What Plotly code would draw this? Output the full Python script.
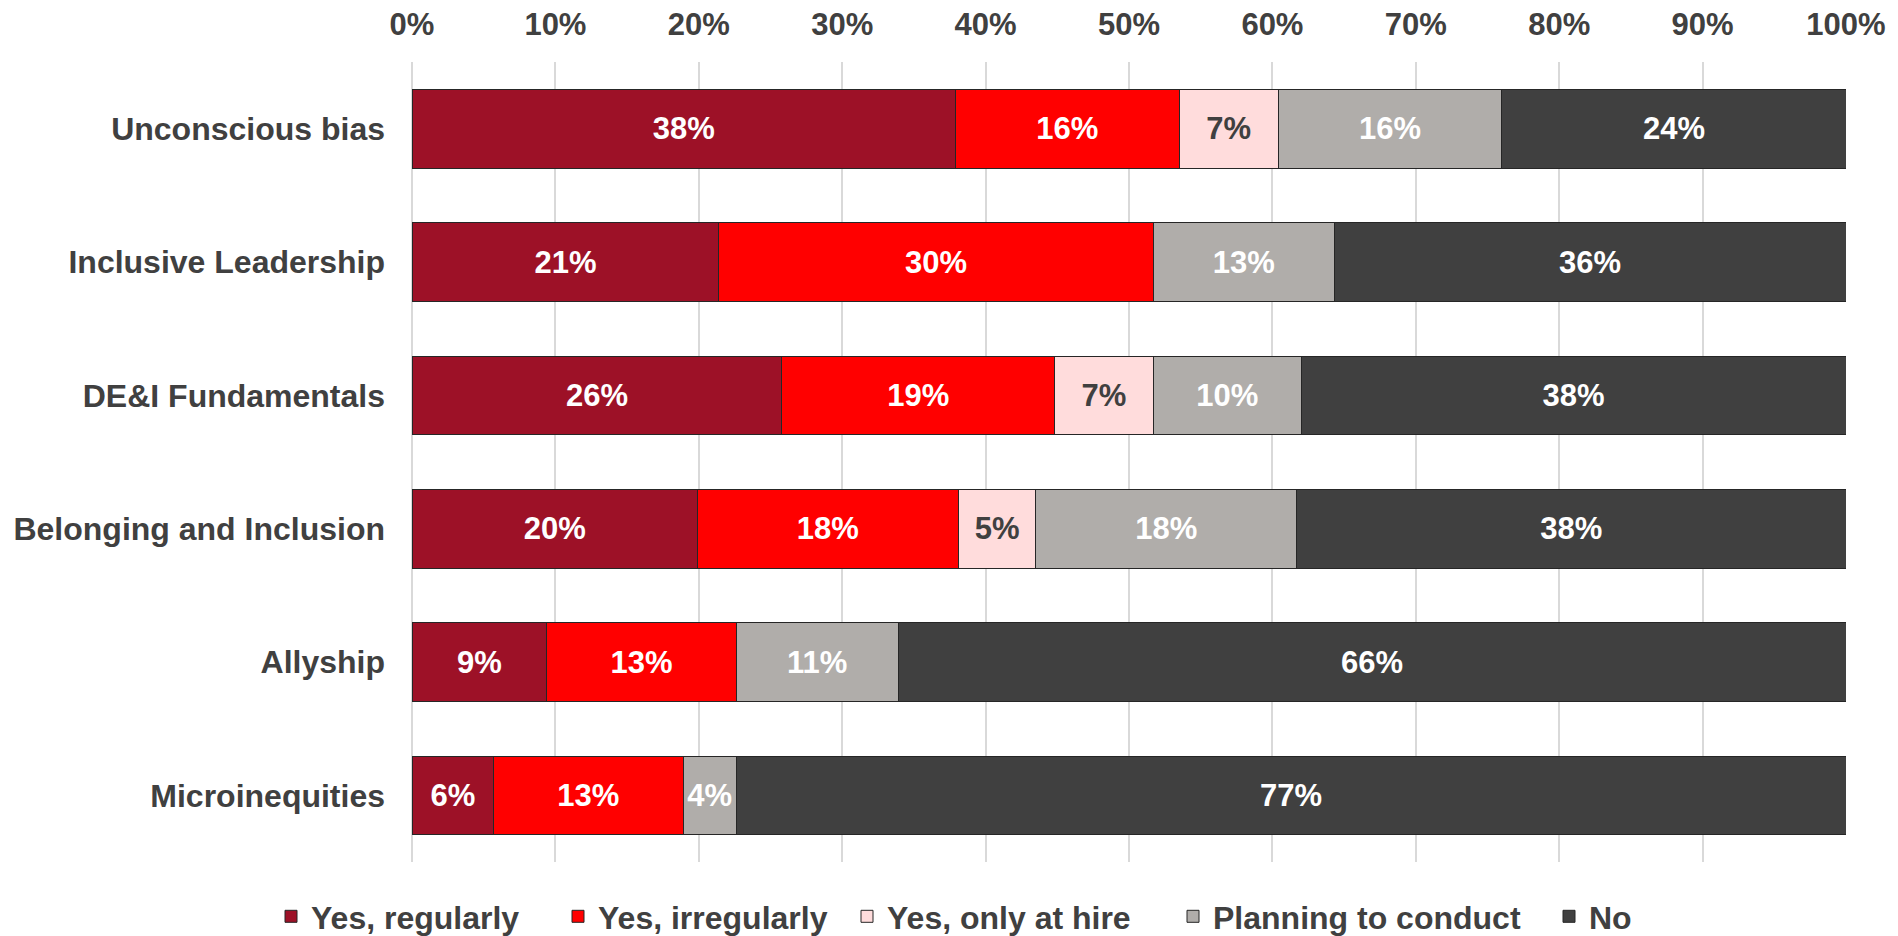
import plotly.graph_objects as go

categories = ["Unconscious bias", "Inclusive Leadership", "DE&I Fundamentals",
              "Belonging and Inclusion", "Allyship", "Microinequities"]

# share of respondents (%), None where the answer was not given
yes_regularly = [37.9, 21.4, 25.8, 19.9, 9.4, 5.7]
yes_irregularly = [15.6, 30.3, 19.0, 18.2, 13.2, 13.2]
yes_only_at_hire = [6.9, None, 6.9, 5.4, None, None]
planning_to_conduct = [15.6, 12.6, 10.3, 18.2, 11.3, 3.7]
no = [24.0, 35.7, 38.0, 38.3, 66.1, 77.4]

x_ticks = [0, 10, 20, 30, 40, 50, 60, 70, 80, 90, 100]

series = [
    ("Yes, regularly", yes_regularly, "#9D1127", "white"),
    ("Yes, irregularly", yes_irregularly, "#FF0000", "white"),
    ("Yes, only at hire", yes_only_at_hire, "#FFDCDC", "#404040"),
    ("Planning to conduct", planning_to_conduct, "#B0ADAA", "white"),
    ("No", no, "#404040", "white"),
]

FONT = "Arial, 'Liberation Sans', sans-serif"
# the page body has an 8px margin, so the figure is 8px smaller than the window
W, H = 1890, 928

# one legend per series so each entry sits where the reference puts it
legend_text_x = [303, 590, 879, 1205, 1581]
legend_names = ["legend", "legend2", "legend3", "legend4", "legend5"]

fig = go.Figure()
for (name, vals, color, txtcolor), lg in zip(series, legend_names):
    fig.add_trace(go.Bar(
        y=categories, x=vals, name=name, orientation="h", legend=lg,
        showlegend=True,
        marker=dict(color=color, line=dict(color="#262626", width=1)),
        texttemplate="%{x:.0f}%", textposition="inside",
        insidetextanchor="middle", constraintext="none", textangle=0,
        textfont=dict(family=FONT, size=31, color=txtcolor, weight="bold"),
        hoverinfo="skip",
    ))

legends = {}
for lg, tx in zip(legend_names, legend_text_x):
    legends[lg] = dict(
        orientation="h", xref="container", yref="container",
        x=(tx - 40) / W, xanchor="left", y=0.021, yanchor="middle",
        font=dict(family=FONT, size=32, color="#404040", weight="bold"),
        itemwidth=30, bgcolor="rgba(0,0,0,0)",
    )

fig.update_layout(
    barmode="stack",
    bargap=0.41,
    width=W, height=H,
    showlegend=True,
    margin=dict(l=404, r=52, t=54, b=74, autoexpand=False),
    plot_bgcolor="white", paper_bgcolor="white",
    font=dict(family=FONT, color="#404040"),
    **legends,
)

fig.update_xaxes(
    side="top", range=[0, 100], tickvals=x_ticks,
    ticktext=[f"{v}%" for v in x_ticks], automargin=False,
    showgrid=True, gridcolor="#D9D9D9", gridwidth=2,
    zeroline=True, zerolinecolor="#D9D9D9", zerolinewidth=2,
    showline=False, ticks="", ticklabelstandoff=20,
    tickfont=dict(family=FONT, size=31, color="#404040", weight="bold"),
)
fig.update_yaxes(
    autorange="reversed", showgrid=False, ticks="", ticklabelstandoff=26,
    automargin=False,
    tickfont=dict(family=FONT, size=32, color="#404040", weight="bold"),
)

fig.write_html("out.html")
